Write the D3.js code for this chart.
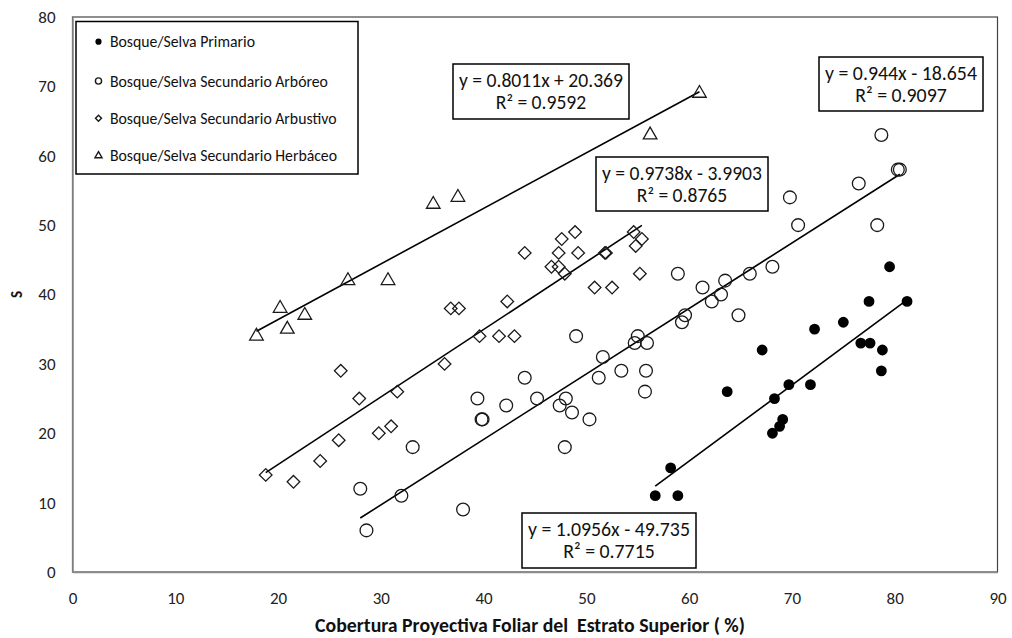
<!DOCTYPE html>
<html><head><meta charset="utf-8">
<script src="https://cdn.jsdelivr.net/npm/d3@7"></script>
<style>
html,body{margin:0;padding:0;background:#fff;}
svg{display:block;font-family:Carlito,Lato,"Open Sans",sans-serif;}
</style></head>
<body>
<svg id="chart" width="1012" height="638"></svg>
<script>
// ---- data ----
const seriesNames = ["Bosque/Selva Primario","Bosque/Selva Secundario Arbóreo","Bosque/Selva Secundario Arbustivo","Bosque/Selva Secundario Herbáceo"];
const primario = [[56.7,11],[58.9,11],[58.2,15],[63.7,26],[67.1,32],[68.1,20],[68.8,21],[69.1,22],[68.3,25],[69.7,27],[71.8,27],[72.2,35],[75.0,36],[76.7,33],[77.6,33],[77.5,39],[78.8,32],[78.7,29],[79.5,44],[81.2,39]];
const arboreo = [[28.6,6],[28.0,12],[32.0,11],[38.0,9],[33.1,18],[39.4,25],[39.8,22],[39.9,22],[44.0,28],[42.2,24],[45.2,25],[48.0,25],[47.4,24],[48.6,23],[50.3,22],[47.9,18],[49.0,34],[51.6,31],[51.2,28],[53.4,29],[55.0,34],[54.7,33],[55.9,33],[55.8,29],[55.7,26],[58.9,43],[59.6,37],[59.3,36],[61.3,41],[62.2,39],[63.1,40],[63.5,42],[64.8,37],[65.9,43],[68.1,44],[69.8,54],[70.6,50],[76.5,56],[78.3,50],[78.7,63],[80.3,58],[80.5,58]];
const arbustivo = [[18.8,14],[21.5,13],[24.1,16],[25.9,19],[27.9,25],[26.1,29],[29.8,20],[31.0,21],[31.6,26],[36.2,30],[36.8,38],[37.6,38],[39.6,34],[41.5,34],[43.0,34],[42.3,39],[44.0,46],[46.6,44],[47.3,44],[47.9,43],[47.3,46],[47.6,48],[48.9,49],[49.2,46],[50.8,41],[52.5,41],[51.8,46],[51.9,46],[54.6,49],[54.8,47],[55.4,48],[55.2,43]];
const herbaceo = [[17.9,34],[20.2,38],[20.9,35],[22.6,37],[26.8,42],[30.7,42],[35.1,53],[37.5,54],[56.2,63],[61.0,69]];
// trend lines: slope, intercept, label lines
const trendSlopes = [1.0956, 0.944, 0.9738, 0.8011];
const trendIntercepts = [-49.735, -18.654, -3.9903, 20.369];
const trendLabels = [["y = 1.0956x - 49.735","R² = 0.7715"],["y = 0.944x - 18.654","R² = 0.9097"],["y = 0.9738x - 3.9903","R² = 0.8765"],["y = 0.8011x + 20.369","R² = 0.9592"]];
const xTicks = [0,10,20,30,40,50,60,70,80,90];
const yTicks = [0,10,20,30,40,50,60,70,80];
const xTitle = "Cobertura Proyectiva Foliar del  Estrato Superior ( %)";
const yTitle = "S";

// ---- layout ----
const svg = d3.select("#chart");
const L = 72.5, R = 997.5, T = 17, B = 572;
const x = d3.scaleLinear().domain([0,90]).range([L,R]);
const y = d3.scaleLinear().domain([0,80]).range([B,T]);
const ink = "#1a1a1a";

function fitText(sel, target){
  const w = sel.node().getComputedTextLength();
  const fs = parseFloat(sel.attr("font-size"));
  if (w > 0) sel.attr("font-size", (fs*target/w).toFixed(2));
}

// plot border
svg.append("rect").attr("x",L).attr("y",T).attr("width",R-L).attr("height",B-T)
  .attr("fill","none").attr("stroke","#444").attr("stroke-width",1.2);

// axes
const xAxis = svg.append("g").attr("transform",`translate(0,${B})`)
  .call(d3.axisBottom(x).tickValues(xTicks).tickSize(0).tickPadding(20));
const yAxis = svg.append("g").attr("transform",`translate(${L},0)`)
  .call(d3.axisLeft(y).tickValues(yTicks).tickSize(0).tickPadding(17));
[xAxis,yAxis].forEach(g=>{
  g.select(".domain").attr("stroke","#8c8c8c").attr("stroke-width",1.6);
  g.selectAll("text").attr("font-size",17).attr("fill","#222").style("font-family","Carlito,Lato,'Open Sans',sans-serif");
});

// titles
const xt = svg.append("text").attr("x",(L+R)/2 - 5).attr("y",632).attr("text-anchor","middle")
  .attr("font-size",15).attr("font-weight","bold").attr("fill","#111")
  .style("white-space","pre").attr("xml:space","preserve").text(xTitle);
fitText(xt, 430);
svg.append("text").attr("transform",`translate(22,${y(40)}) rotate(-90)`).attr("text-anchor","middle")
  .attr("font-size",15).attr("font-weight","bold").attr("fill","#111").text(yTitle);

// trend lines
const allSeries = [primario, arboreo, arbustivo, herbaceo];
allSeries.forEach((data,i)=>{
  const xs = d3.extent(data, d=>d[0]);
  svg.append("line")
    .attr("x1",x(xs[0])).attr("y1",y(trendSlopes[i]*xs[0]+trendIntercepts[i]))
    .attr("x2",x(xs[1])).attr("y2",y(trendSlopes[i]*xs[1]+trendIntercepts[i]))
    .attr("stroke","#000").attr("stroke-width",1.6);
});

// markers
const sym = [
  {type:d3.symbolCircle,size:92,fill:"#000",stroke:"none",rot:0},
  {type:d3.symbolCircle,size:128,fill:"none",stroke:ink,rot:0},
  {type:d3.symbolSquare,size:80,fill:"none",stroke:ink,rot:45},
  {type:d3.symbolTriangle,size:80,fill:"none",stroke:ink,rot:0}
];
allSeries.forEach((data,i)=>{
  const s = sym[i];
  svg.append("g").selectAll("path").data(data).join("path")
    .attr("d", d3.symbol().type(s.type).size(s.size))
    .attr("transform", d=>`translate(${x(d[0])},${y(d[1])}) rotate(${s.rot})`)
    .attr("fill", s.fill).attr("stroke", s.stroke).attr("stroke-width",1.3);
});

// equation boxes
const boxes = [[522,513,696,568],[819,57,983,111],[596,157,768,211],[453,64,629,119]];
boxes.forEach((b,i)=>{
  svg.append("rect").attr("x",b[0]).attr("y",b[1]).attr("width",b[2]-b[0]).attr("height",b[3]-b[1])
    .attr("fill","#fff").attr("stroke","#000").attr("stroke-width",1.5);
  const cx = (b[0]+b[2])/2;
  const t1 = svg.append("text").attr("x",cx).attr("y",b[1]+23).attr("text-anchor","middle")
    .attr("font-size",16).attr("fill","#111").text(trendLabels[i][0]);
  const target = (b[2]-b[0]) - 12;
  fitText(t1, target);
  const fs = t1.attr("font-size");
  svg.append("text").attr("x",cx).attr("y",b[1]+45).attr("text-anchor","middle")
    .attr("font-size",fs).attr("fill","#111").text(trendLabels[i][1]);
});

// legend
svg.append("rect").attr("x",76).attr("y",21.5).attr("width",282).attr("height",152.5)
  .attr("fill","#fff").attr("stroke","#000").attr("stroke-width",1.5);
const legY = [41.7, 81, 118.3, 155.7];
const legSym = [
  {type:d3.symbolCircle,size:30,fill:"#000",stroke:"none",rot:0},
  {type:d3.symbolCircle,size:30,fill:"none",stroke:ink,rot:0},
  {type:d3.symbolSquare,size:18,fill:"none",stroke:ink,rot:45},
  {type:d3.symbolTriangle,size:22,fill:"none",stroke:ink,rot:0}
];
const legTexts = [];
seriesNames.forEach((name,i)=>{
  const s = legSym[i];
  svg.append("path").attr("d", d3.symbol().type(s.type).size(s.size))
    .attr("transform",`translate(98.5,${legY[i]}) rotate(${s.rot})`)
    .attr("fill",s.fill).attr("stroke",s.stroke).attr("stroke-width",1.4);
  legTexts.push(svg.append("text").attr("x",110).attr("y",legY[i]).attr("dy","0.35em")
    .attr("font-size",13).attr("fill","#111").text(name));
});
fitText(legTexts[3], 227);
const legFs = legTexts[3].attr("font-size");
legTexts.forEach(t=>t.attr("font-size",legFs));
</script>
</body></html>
